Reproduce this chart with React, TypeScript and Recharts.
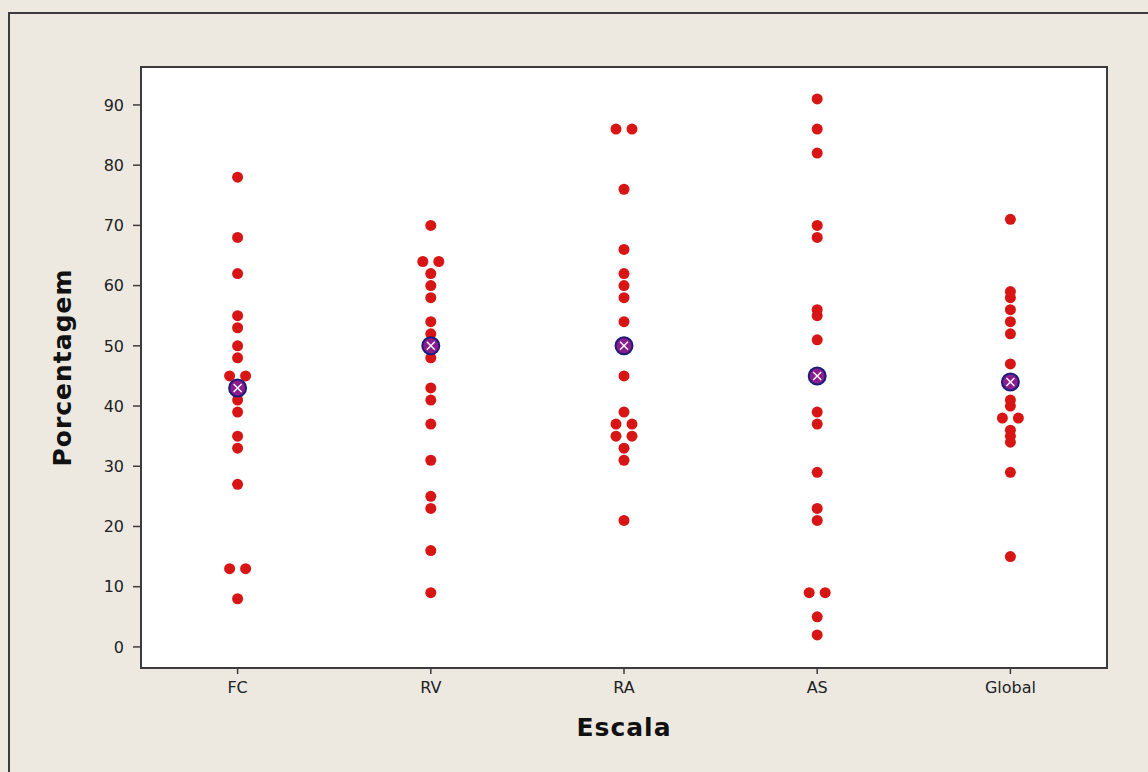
import { ScatterChart, Scatter, XAxis, YAxis, ReferenceArea, Label } from 'recharts'

const categories = ['FC', 'RV', 'RA', 'AS', 'Global']

const fcValues = [78, 68, 62, 55, 53, 50, 48, 45, 45, 43, 42, 41, 39, 35, 33, 27, 13, 13, 8]
const rvValues = [70, 64, 64, 62, 60, 58, 54, 52, 50, 48, 43, 41, 37, 31, 25, 23, 16, 9]
const raValues = [86, 86, 76, 66, 62, 60, 58, 54, 50, 45, 39, 37, 37, 35, 35, 33, 31, 21]
const asValues = [91, 86, 82, 70, 68, 56, 55, 51, 39, 37, 29, 23, 21, 9, 9, 5, 2]
const globalValues = [71, 59, 58, 56, 54, 52, 47, 41, 40, 38, 38, 36, 35, 34, 29, 15]

const meanValues = [43, 50, 50, 45, 44]

const yTicks = [0, 10, 20, 30, 40, 50, 60, 70, 80, 90]
const yDomain = [-3.5, 96.3]

const FONT = '"DejaVu Sans", Verdana, sans-serif'
const INK = '#222222'
const FRAME = '#3c3c3c'

// equal values in one group sit side by side, like Minitab does
function toPoints(values: number[], idx: number) {
  const counts: Record<number, number> = {}
  values.forEach((v) => (counts[v] = (counts[v] || 0) + 1))
  const seen: Record<number, number> = {}
  return values.map((v) => {
    const n = counts[v]
    const i = seen[v] || 0
    seen[v] = i + 1
    return { x: idx, y: v, slot: i - (n - 1) / 2 }
  })
}

const points = [fcValues, rvValues, raValues, asValues, globalValues].flatMap((vals, i) => toPoints(vals, i))
const meanPoints = meanValues.map((v, i) => ({ x: i, y: v }))

const RedDot = (props: any) => {
  const { cx, cy, payload } = props
  if (cx == null || cy == null) return null
  return <circle cx={cx + (payload?.slot || 0) * 16} cy={cy} r={5.5} fill="#D81515" />
}

const MeanMark = (props: any) => {
  const { cx, cy } = props
  if (cx == null || cy == null) return null
  return (
    <g>
      <circle cx={cx} cy={cy} r={8.5} fill="#8A1C8E" stroke="#1C1C7A" strokeWidth={2} />
      <path
        d={`M${cx - 4},${cy - 4}L${cx + 4},${cy + 4}M${cx + 4},${cy - 4}L${cx - 4},${cy + 4}`}
        stroke="#ffffff"
        strokeWidth={1.4}
      />
    </g>
  )
}

export default function App() {
  return (
    <div style={{ position: 'absolute', left: 0, top: 0, width: 1148, height: 772, background: '#EDE9E1', overflow: 'hidden' }}>
      <div
        style={{
          position: 'absolute',
          left: 8,
          top: 12,
          width: 1200,
          height: 800,
          borderLeft: `2px solid ${FRAME}`,
          borderTop: `2px solid ${FRAME}`,
        }}
      />
      <div style={{ position: 'absolute', left: 0, top: 0 }}>
        <ScatterChart width={1148} height={772} margin={{ top: 67, right: 41, bottom: 64, left: 81 }}>
          <XAxis
            type="number"
            dataKey="x"
            domain={[-0.5, 4.5]}
            ticks={[0, 1, 2, 3, 4]}
            interval={0}
            tickFormatter={(i: number) => categories[i]}
            height={40}
            tickSize={6}
            tickMargin={8}
            axisLine={{ stroke: FRAME, strokeWidth: 2 }}
            tickLine={{ stroke: FRAME, strokeWidth: 1.5 }}
            tick={{ fill: INK, fontSize: 16, fontFamily: FONT }}
          >
            <Label
              value="Escala"
              position="bottom"
              offset={10}
              style={{ fill: '#111', fontSize: 25, fontWeight: 'bold', fontFamily: FONT, letterSpacing: 1 }}
            />
          </XAxis>
          <YAxis
            type="number"
            dataKey="y"
            domain={yDomain}
            ticks={yTicks}
            allowDataOverflow
            width={60}
            tickSize={8}
            tickMargin={9}
            axisLine={{ stroke: FRAME, strokeWidth: 2 }}
            tickLine={{ stroke: FRAME, strokeWidth: 1.5 }}
            tick={{ fill: INK, fontSize: 16, fontFamily: FONT }}
          >
            <Label
              content={({ viewBox }: any) => {
                const cx = viewBox.x - 19
                const cy = viewBox.y + viewBox.height / 2
                return (
                  <text
                    x={cx}
                    y={cy}
                    transform={`rotate(-90 ${cx} ${cy})`}
                    textAnchor="middle"
                    dominantBaseline="central"
                    style={{ fill: '#111', fontSize: 25, fontWeight: 'bold', fontFamily: FONT, letterSpacing: 1 }}
                  >
                    Porcentagem
                  </text>
                )
              }}
            />
          </YAxis>
          <ReferenceArea
            x1={-0.5}
            x2={4.5}
            y1={yDomain[0]}
            y2={yDomain[1]}
            fill="#ffffff"
            fillOpacity={1}
            stroke={FRAME}
            strokeWidth={2}
          />
          <Scatter data={points} shape={RedDot} isAnimationActive={false} />
          <Scatter data={meanPoints} shape={MeanMark} isAnimationActive={false} />
        </ScatterChart>
      </div>
    </div>
  )
}
